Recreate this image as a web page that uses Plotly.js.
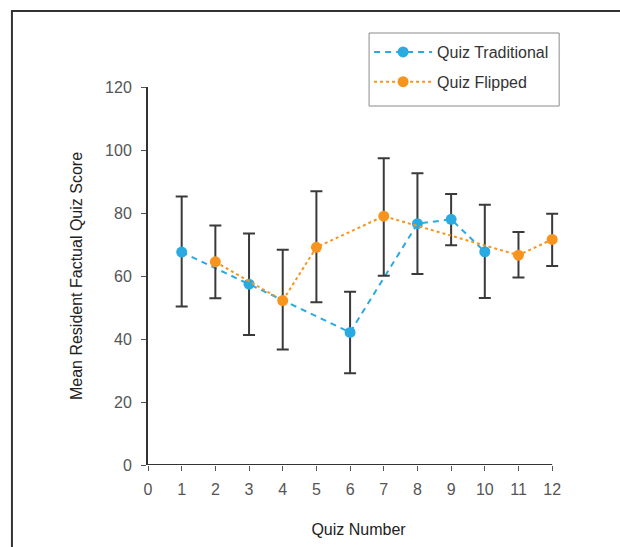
<!DOCTYPE html>
<html>
<head>
<meta charset="utf-8">
<script src="https://cdn.plot.ly/plotly-3.0.1.min.js"></script>
<style>html,body{margin:0;padding:0;background:#fff;}#chart{width:620px;height:547px;}</style>
</head>
<body>
<div id="chart"></div>
<script>
// Quiz Traditional
const tradQuiz = [1, 3, 6, 8, 9, 10];
const tradMean = [67.6, 57.4, 42.1, 76.6, 78.0, 67.7];
const tradUpper = [85.2, 73.5, 55.0, 92.6, 86.0, 82.6];
const tradLower = [50.3, 41.3, 29.1, 60.6, 69.8, 53.0];
// Quiz Flipped
const flipQuiz = [2, 4, 5, 7, 11, 12];
const flipMean = [64.5, 52.2, 69.1, 79.0, 66.6, 71.6];
const flipUpper = [76.0, 68.3, 86.9, 97.4, 74.0, 79.8];
const flipLower = [52.9, 36.7, 51.7, 60.1, 59.5, 63.2];

const xTicks = [0,1,2,3,4,5,6,7,8,9,10,11,12];
const yTicks = [0,20,40,60,80,100,120];

const blue = '#29abe2';
const orange = '#f7941d';
const errColor = '#3a3a3a';
const font = 'Liberation Sans, Arial, sans-serif';

function errs(mean, up, lo) {
  return {
    type: 'data', symmetric: false,
    array: mean.map((m, i) => up[i] - m),
    arrayminus: mean.map((m, i) => m - lo[i]),
    color: errColor, thickness: 2, width: 6
  };
}

const traces = [
  {
    x: tradQuiz, y: tradMean, name: 'Quiz Traditional', type: 'scatter', mode: 'lines+markers',
    line: {color: blue, width: 2, dash: '6px,5px'},
    marker: {color: blue, size: 11},
    error_y: errs(tradMean, tradUpper, tradLower),
    cliponaxis: false, legendgroup: 'a'
  },
  {
    x: flipQuiz, y: flipMean, name: 'Quiz Flipped', type: 'scatter', mode: 'lines+markers',
    line: {color: orange, width: 2, dash: 'dot'},
    marker: {color: orange, size: 11},
    error_y: errs(flipMean, flipUpper, flipLower),
    cliponaxis: false, legendgroup: 'b'
  }
];

// plot geometry (pixels)
const L = 148, T = 87, B = 465;
const unitPx = 404 / 12;
const xMax = 12.5;
const R = L + unitPx * xMax;
const W = R - L, H = B - T;
const px = v => (v - L) / W;
const py = v => (B - v) / H;

const layout = {
  width: 620, height: 547,
  margin: {l: L, r: 620 - R, t: T, b: 547 - B},
  paper_bgcolor: '#fff', plot_bgcolor: '#fff',
  font: {family: font, size: 16, color: '#4a4a4a'},
  showlegend: true,
  legend: {
    x: px(369), y: py(35), xanchor: 'left', yanchor: 'top',
    bgcolor: 'rgba(0,0,0,0)', borderwidth: 0, itemwidth: 58,
    font: {family: font, size: 16, color: '#333'},
    tracegroupgap: 6, traceorder: 'grouped'
  },
  xaxis: {
    range: [0, xMax], tickmode: 'array', tickvals: xTicks, ticktext: xTicks.map(String),
    showgrid: false, zeroline: false, showline: false,
    ticks: 'outside', ticklen: 5, tickwidth: 1, tickcolor: '#555',
    ticklabelstandoff: 5,
    tickfont: {family: font, size: 16, color: '#555'},
    title: {text: 'Quiz Number', font: {family: font, size: 16, color: '#222'}, standoff: 26},
    fixedrange: true
  },
  yaxis: {
    range: [0, 120], tickmode: 'array', tickvals: yTicks, ticktext: yTicks.map(String),
    showgrid: false, zeroline: false, showline: true, linecolor: '#333', linewidth: 2,
    ticks: 'outside', ticklen: 5, tickwidth: 1, tickcolor: '#555',
    ticklabelstandoff: 6,
    tickfont: {family: font, size: 16, color: '#555'},
    title: {text: 'Mean Resident Factual Quiz Score', font: {family: font, size: 16, color: '#222'}, standoff: 18},
    fixedrange: true
  },
  shapes: [
    {type: 'line', xref: 'x', yref: 'y', x0: 0, x1: 12, y0: 0, y1: 0, line: {color: '#333', width: 2}, layer: 'above'},
    {type: 'line', xref: 'paper', yref: 'paper', x0: px(11), x1: px(625), y0: py(11), y1: py(11), line: {color: '#333', width: 2}},
    {type: 'line', xref: 'paper', yref: 'paper', x0: px(12), x1: px(12), y0: py(11), y1: py(560), line: {color: '#333', width: 2}},
    {type: 'rect', xref: 'paper', yref: 'paper', x0: px(369), x1: px(559), y0: py(33), y1: py(106), line: {color: '#8a8a8a', width: 1}, fillcolor: 'rgba(0,0,0,0)'}
  ]
};

Plotly.newPlot('chart', traces, layout, {displayModeBar: false, staticPlot: true});
</script>
</body>
</html>
